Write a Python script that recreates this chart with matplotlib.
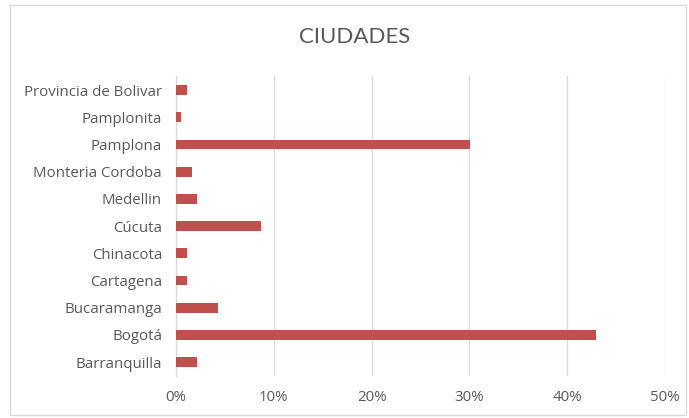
"""Horizontal bar chart of cities (CIUDADES)."""

import matplotlib
matplotlib.use("Agg")
import matplotlib.pyplot as plt
from matplotlib.patches import Rectangle
from matplotlib.ticker import FuncFormatter

# Data, bottom to top as drawn
cities = [
    "Barranquilla", "Bogotá", "Bucaramanga", "Cartagena", "Chinacota",
    "Cúcuta", "Medellin", "Monteria Cordoba", "Pamplona", "Pamplonita",
    "Provincia de Bolivar",
]
shares = [2.2, 43.0, 4.3, 1.1, 1.1, 8.7, 2.2, 1.6, 30.1, 0.5, 1.1]
x_ticks = [0, 10, 20, 30, 40, 50]

TEXT = "#595959"
BAR = "#C0504D"
GRID = "#D9D9D9"

plt.rcParams["font.family"] = ["Open Sans", "DejaVu Sans"]

fig = plt.figure(figsize=(6.89, 4.18), dpi=100)
ax = fig.add_axes([0.2554, 0.1014, 0.7097, 0.7158])

ax.barh(range(len(cities)), shares, height=0.36, color=BAR, zorder=3)

ax.set_xlim(0, 50)
ax.set_ylim(-0.5, len(cities) - 0.5)
ax.set_xticks(x_ticks)
ax.xaxis.set_major_formatter(FuncFormatter(lambda v, _: f"{v:.0f}%"))
ax.set_yticks(range(len(cities)))
ax.set_yticklabels(cities)

ax.grid(axis="x", color=GRID, linewidth=0.9, zorder=0)
for side in ["top", "right", "bottom"]:
    ax.spines[side].set_visible(False)
ax.spines["left"].set_color(GRID)
ax.spines["left"].set_linewidth(0.9)
ax.tick_params(axis="both", length=0, colors=TEXT, labelsize=10.8)
ax.tick_params(axis="x", pad=10)
ax.tick_params(axis="y", pad=10)

fig.text(0.515, 0.912, "CIUDADES", ha="center", va="center",
         fontsize=16, color=TEXT, family=["Lato", "DejaVu Sans"])

# light chart-area border
fig.patches.append(Rectangle((10 / 689, 3 / 418), 676 / 689, 410 / 418,
                             transform=fig.transFigure, fill=False,
                             edgecolor=GRID, linewidth=1))

fig.savefig("out.png", dpi=100)
